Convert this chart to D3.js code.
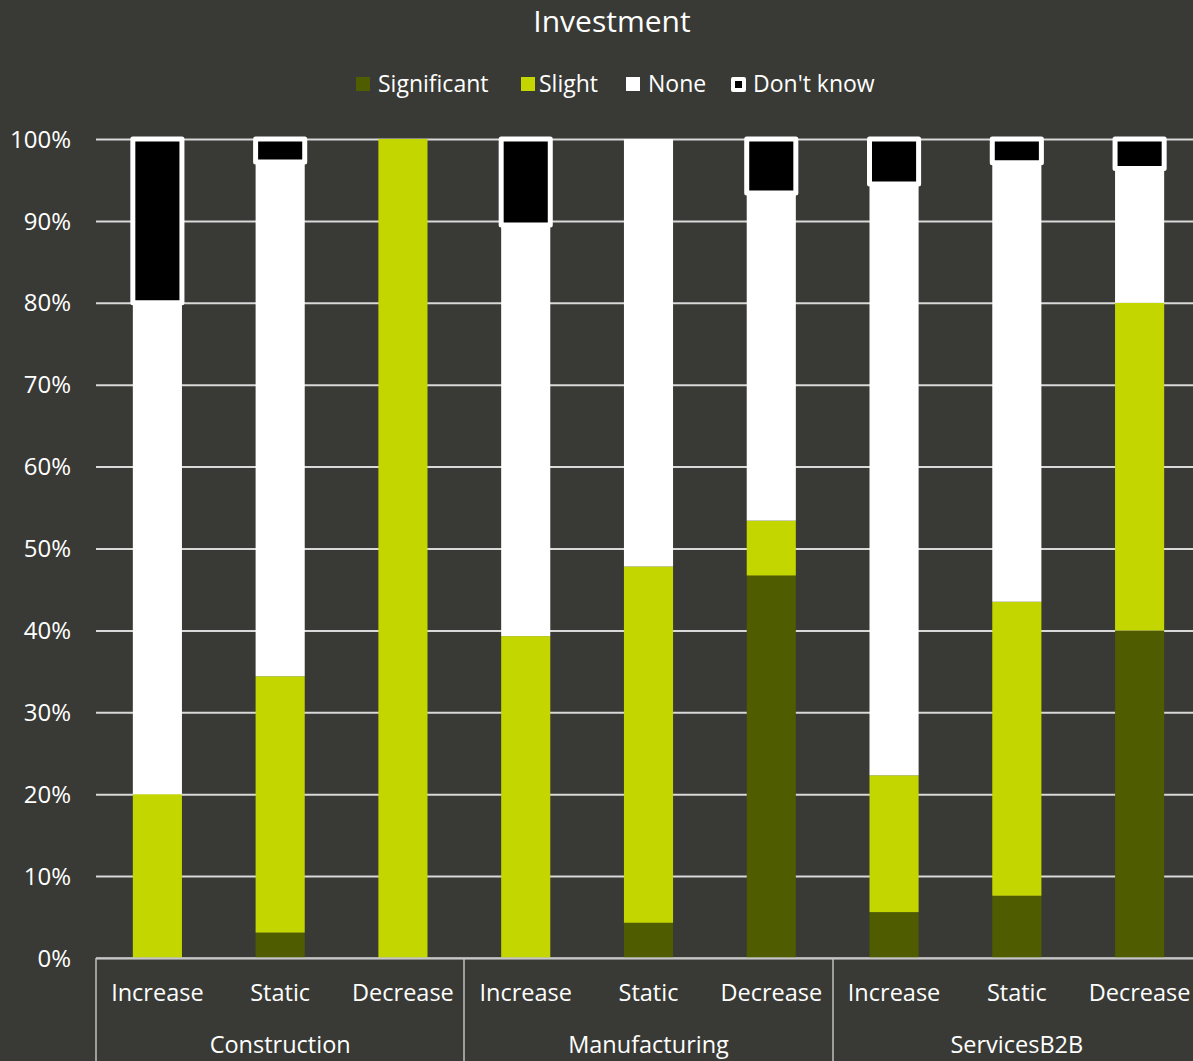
<!DOCTYPE html>
<html>
<head>
<meta charset="utf-8">
<script src="https://cdn.jsdelivr.net/npm/d3@7"></script>
<style>
  html, body { margin: 0; padding: 0; background: #393a35; overflow: hidden; }
  svg { display: block; }
</style>
</head>
<body>
<svg id="chart"></svg>
<script>
// Chart data (percent of respondents).
const groups = ['Construction', 'Manufacturing', 'ServicesB2B'];
const subCategories = ['Increase', 'Static', 'Decrease'];
const seriesNames = ['Significant', 'Slight', 'None', "Don't know"];
const significant = [0, 3.1, 0, 0, 4.3, 46.7, 5.6, 7.6, 40];
const slight = [20, 31.3, 100, 39.3, 43.5, 6.7, 16.7, 35.9, 40];
const none = [60, 62.8, 0, 50.2, 52.2, 40, 72.2, 53.6, 16.4];
const dontKnow = [20, 2.8, 0, 10.5, 0, 6.6, 5.5, 2.9, 3.6];
const yTicks = [0, 10, 20, 30, 40, 50, 60, 70, 80, 90, 100];

const WIDTH = 1193;
const HEIGHT = 1061;
const FONT = "'Open Sans', 'Noto Sans', sans-serif";
const colours = ['#505c00', '#c4d600', '#ffffff', '#000000'];

// The plot area runs a little past the right edge of the picture.
const plotLeft = 96;
const plotRight = 1201;
const plotTop = 139;
const plotBottom = 958;

// Build rows for d3.stack, one per bar.
const rows = [];
groups.forEach((g, gi) => {
  subCategories.forEach((s, si) => {
    const i = gi * subCategories.length + si;
    rows.push({
      key: i,
      group: g,
      sub: s,
      Significant: significant[i],
      Slight: slight[i],
      None: none[i],
      "Don't know": dontKnow[i],
    });
  });
});

const svg = d3.select('#chart').attr('width', WIDTH).attr('height', HEIGHT);

svg.append('rect').attr('width', WIDTH).attr('height', HEIGHT).attr('fill', '#393a35');

const x = d3
  .scaleBand()
  .domain(rows.map((d) => d.key))
  .range([plotLeft, plotRight])
  .paddingInner(0.6)
  .paddingOuter(0.3);

const y = d3.scaleLinear().domain([0, 100]).range([plotBottom, plotTop]);

const color = d3.scaleOrdinal().domain(seriesNames).range(colours);

// Title
svg
  .append('text')
  .attr('x', 612)
  .attr('y', 32)
  .attr('text-anchor', 'middle')
  .attr('fill', '#ffffff')
  .style('font-family', FONT)
  .style('font-size', '30px')
  .text('Investment');

// Gridlines + y tick labels
const yAxis = svg
  .append('g')
  .attr('transform', `translate(${plotLeft},0)`)
  .call(
    d3
      .axisLeft(y)
      .tickValues(yTicks)
      .tickSize(-(plotRight - plotLeft))
      .tickPadding(25)
      .tickFormat((d) => d + '%')
  );
yAxis.select('.domain').remove();
yAxis.selectAll('.tick line').attr('stroke', '#d9d9d9').attr('stroke-width', 2);
yAxis
  .selectAll('.tick text')
  .attr('fill', '#ffffff')
  .attr('dy', '0.34em')
  .style('font-family', FONT)
  .style('font-size', '24px');

// Stacked bars
const stacked = d3.stack().keys(seriesNames)(rows);

svg
  .append('g')
  .selectAll('g')
  .data(stacked)
  .join('g')
  .attr('fill', (d) => color(d.key))
  .each(function (series) {
    const isDk = series.key === "Don't know";
    d3.select(this)
      .selectAll('rect')
      .data(series.filter((d) => d[1] - d[0] > 0))
      .join('rect')
      .attr('x', (d) => x(d.data.key))
      .attr('width', x.bandwidth())
      .attr('y', (d) => y(d[1]))
      .attr('height', (d) => y(d[0]) - y(d[1]))
      .attr('stroke', isDk ? '#ffffff' : 'none')
      .attr('stroke-width', isDk ? 5 : 0)
      .attr('stroke-linejoin', 'round');
  });

// Category axis (two levels)
const axisY = y(0);
const axisColor = '#bfbfbf';
const axisG = svg.append('g');
axisG
  .append('line')
  .attr('x1', plotLeft)
  .attr('x2', plotRight)
  .attr('y1', axisY)
  .attr('y2', axisY)
  .attr('stroke', axisColor)
  .attr('stroke-width', 1.5);

const groupWidth = (plotRight - plotLeft) / groups.length;
d3.range(groups.length + 1).forEach((i) => {
  const gx = Math.round(plotLeft + i * groupWidth);
  axisG
    .append('line')
    .attr('x1', gx)
    .attr('x2', gx)
    .attr('y1', axisY)
    .attr('y2', HEIGHT)
    .attr('stroke', axisColor)
    .attr('stroke-width', 1.5);
});

axisG
  .selectAll('text.sub')
  .data(rows)
  .join('text')
  .attr('class', 'sub')
  .attr('x', (d) => x(d.key) + x.bandwidth() / 2)
  .attr('y', 1001)
  .attr('text-anchor', 'middle')
  .attr('fill', '#ffffff')
  .style('font-family', FONT)
  .style('font-size', '23.5px')
  .text((d) => d.sub);

axisG
  .selectAll('text.group')
  .data(groups)
  .join('text')
  .attr('class', 'group')
  .attr('x', (d, i) => plotLeft + (i + 0.5) * groupWidth)
  .attr('y', 1053)
  .attr('text-anchor', 'middle')
  .attr('fill', '#ffffff')
  .style('font-family', FONT)
  .style('font-size', '23.5px')
  .text((d) => d);

// Legend
const legend = svg.append('g').attr('transform', 'translate(356,77)');
const legendX = [0, 165, 270, 375];
seriesNames.forEach((name, i) => {
  const item = legend.append('g').attr('transform', `translate(${legendX[i]},0)`);
  if (name === "Don't know") {
    item
      .append('rect')
      .attr('x', 2)
      .attr('y', 2)
      .attr('width', 11)
      .attr('height', 11)
      .attr('fill', '#000000')
      .attr('stroke', '#ffffff')
      .attr('stroke-width', 4)
      .attr('stroke-linejoin', 'round');
  } else {
    item.append('rect').attr('width', 14).attr('height', 14).attr('fill', color(name));
  }
  item
    .append('text')
    .attr('x', i === 1 ? 18 : 22)
    .attr('y', 15)
    .attr('fill', '#ffffff')
    .style('font-family', FONT)
    .style('font-size', '23px')
    .text(name);
});
</script>
</body>
</html>
